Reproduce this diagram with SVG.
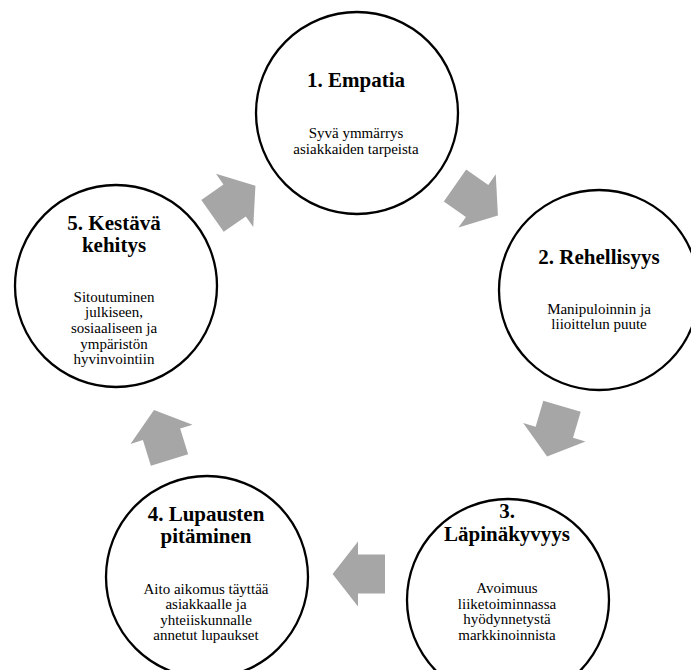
<svg xmlns="http://www.w3.org/2000/svg" xmlns:xlink="http://www.w3.org/1999/xlink" width="691" height="670" viewBox="0 0 691 670">
  <style>
    .node circle { fill: #ffffff; stroke: #000000; stroke-width: 2.3; }
    text { font-family: "Liberation Serif", "Times New Roman", "DejaVu Serif", serif; fill: #000000; text-anchor: middle; }
    .title { font-weight: bold; font-size: 21px; }
    .desc { font-size: 15px; }
    .arrow { fill: #a6a6a6; }
  </style>
  <defs>
    <!-- block arrow: shaft from x=0, head tip at x=52.4, pointing along +x -->
    <path id="blockArrow" d="M0,-19.5 L27,-19.5 L27,-32.5 L52.4,0 L27,32.5 L27,19.5 L0,19.5 Z"/>
  </defs>

  <rect width="691" height="670" fill="#ffffff"/>

  <g id="connectors">
    <use xlink:href="#blockArrow" class="arrow" transform="translate(212.5,215.9) rotate(-35)"/>
    <use xlink:href="#blockArrow" class="arrow" transform="translate(455,185.5) rotate(35)"/>
    <use xlink:href="#blockArrow" class="arrow" transform="translate(562,406.3) rotate(106.5)"/>
    <use xlink:href="#blockArrow" class="arrow" transform="translate(385,574) rotate(180)"/>
    <use xlink:href="#blockArrow" class="arrow" transform="translate(169.5,460.1) rotate(-107.2)"/>
  </g>

  <g id="node1" class="node">
    <circle cx="357" cy="113" r="101"/>
    <text class="title" x="356" y="87">1. Empatia</text>
    <text class="desc" x="356" y="138">Syvä ymmärrys</text>
    <text class="desc" x="356" y="154">asiakkaiden tarpeista</text>
  </g>

  <g id="node2" class="node">
    <circle cx="599" cy="290" r="100"/>
    <text class="title" x="599" y="264">2. Rehellisyys</text>
    <text class="desc" x="599" y="314">Manipuloinnin ja</text>
    <text class="desc" x="599" y="329">liioittelun puute</text>
  </g>

  <g id="node3" class="node">
    <circle cx="508" cy="600" r="101"/>
    <text class="title" x="507" y="518">3.</text>
    <text class="title" x="507" y="541">Läpinäkyvyys</text>
    <text class="desc" x="507" y="593">Avoimuus</text>
    <text class="desc" x="507" y="609">liiketoiminnassa</text>
    <text class="desc" x="507" y="624">hyödynnetystä</text>
    <text class="desc" x="507" y="640">markkinoinnista</text>
  </g>

  <g id="node4" class="node">
    <circle cx="207" cy="577" r="101"/>
    <text class="title" x="206" y="521">4. Lupausten</text>
    <text class="title" x="206" y="543">pitäminen</text>
    <text class="desc" x="206" y="594">Aito aikomus täyttää</text>
    <text class="desc" x="206" y="609">asiakkaalle ja</text>
    <text class="desc" x="206" y="625">yhteiiskunnalle</text>
    <text class="desc" x="206" y="640">annetut lupaukset</text>
  </g>

  <g id="node5" class="node">
    <circle cx="116" cy="286" r="101"/>
    <text class="title" x="114" y="229.5">5. Kestävä</text>
    <text class="title" x="114" y="251.5">kehitys</text>
    <text class="desc" x="114" y="302">Sitoutuminen</text>
    <text class="desc" x="114" y="317">julkiseen,</text>
    <text class="desc" x="114" y="333">sosiaaliseen ja</text>
    <text class="desc" x="114" y="349">ympäristön</text>
    <text class="desc" x="114" y="364">hyvinvointiin</text>
  </g>
</svg>
